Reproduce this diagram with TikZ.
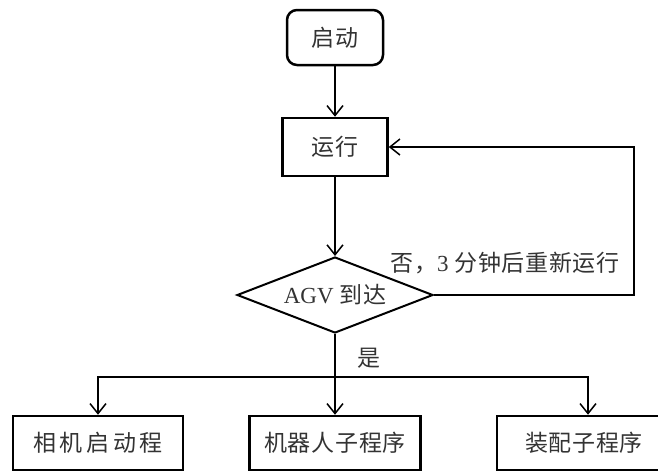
\documentclass[tikz,border=0pt]{standalone}
\usepackage{fontspec}
\setmainfont{Liberation Serif}
\newfontfamily\cjk[LetterSpace=3]{Noto Sans CJK SC}
\newfontfamily\cjkwide[LetterSpace=16]{Noto Sans CJK SC}
\usetikzlibrary{shapes.geometric,arrows.meta}
\definecolor{txt}{HTML}{333333}
\begin{document}
\begin{tikzpicture}[x=1pt,y=-1pt,
  box/.style={draw=black, line width=2.5pt, inner sep=0pt, text=txt,
    font=\fontsize{23}{27}\selectfont\cjk},
  conn/.style={draw=black, line width=1.5pt, -{Straight Barb[length=10pt,width=16pt,line width=1.5pt]}},
  plain/.style={draw=black, line width=1.5pt},
  lbl/.style={text=txt, inner sep=0pt, font=\fontsize{23}{27}\selectfont\cjk}]
\useasboundingbox (0,0) rectangle (658,472);
\node[box, rounded corners=10pt, minimum width=96pt, minimum height=55pt] (start) at (335,37.5) {启动};
\node[box, minimum width=105pt, minimum height=58pt] (run) at (335,147) {运行};
\node[diamond, draw=black, line width=2pt, minimum width=196pt, minimum height=76pt,
  aspect=2.58, inner sep=0pt, text=txt, font=\fontsize{23}{27}\selectfont] (dec) at (335,295) {AGV {\cjk 到达}};
\node[box, minimum width=170pt, minimum height=54pt, font=\fontsize{23}{27}\selectfont\cjkwide] (b1) at (98,443) {相机启动程};
\node[box, minimum width=171pt, minimum height=54pt] (b2) at (335,443) {机器人子程序};
\node[box, minimum width=174pt, minimum height=54pt] (b3) at (584,443) {装配子程序};
\node[lbl] (lno) at (505,263) {否，{\fontfamily{\rmdefault}\selectfont 3} 分钟后重新运行};
\node[lbl] (lyes) at (369,358) {是};
\coordinate (fb) at (634,295);
\coordinate (split) at (335,377);
\draw[conn] (start) -- (run);
\draw[conn] (run) -- (dec);
\draw[conn] (dec.east) -- (fb) |- (run.east);
\draw[plain] (dec.south) -- (split);
\draw[conn] (split) -- (b2);
\draw[conn] (split) -| (b1);
\draw[conn] (split) -| ([xshift=4pt]b3.north);
\end{tikzpicture}
\end{document}
